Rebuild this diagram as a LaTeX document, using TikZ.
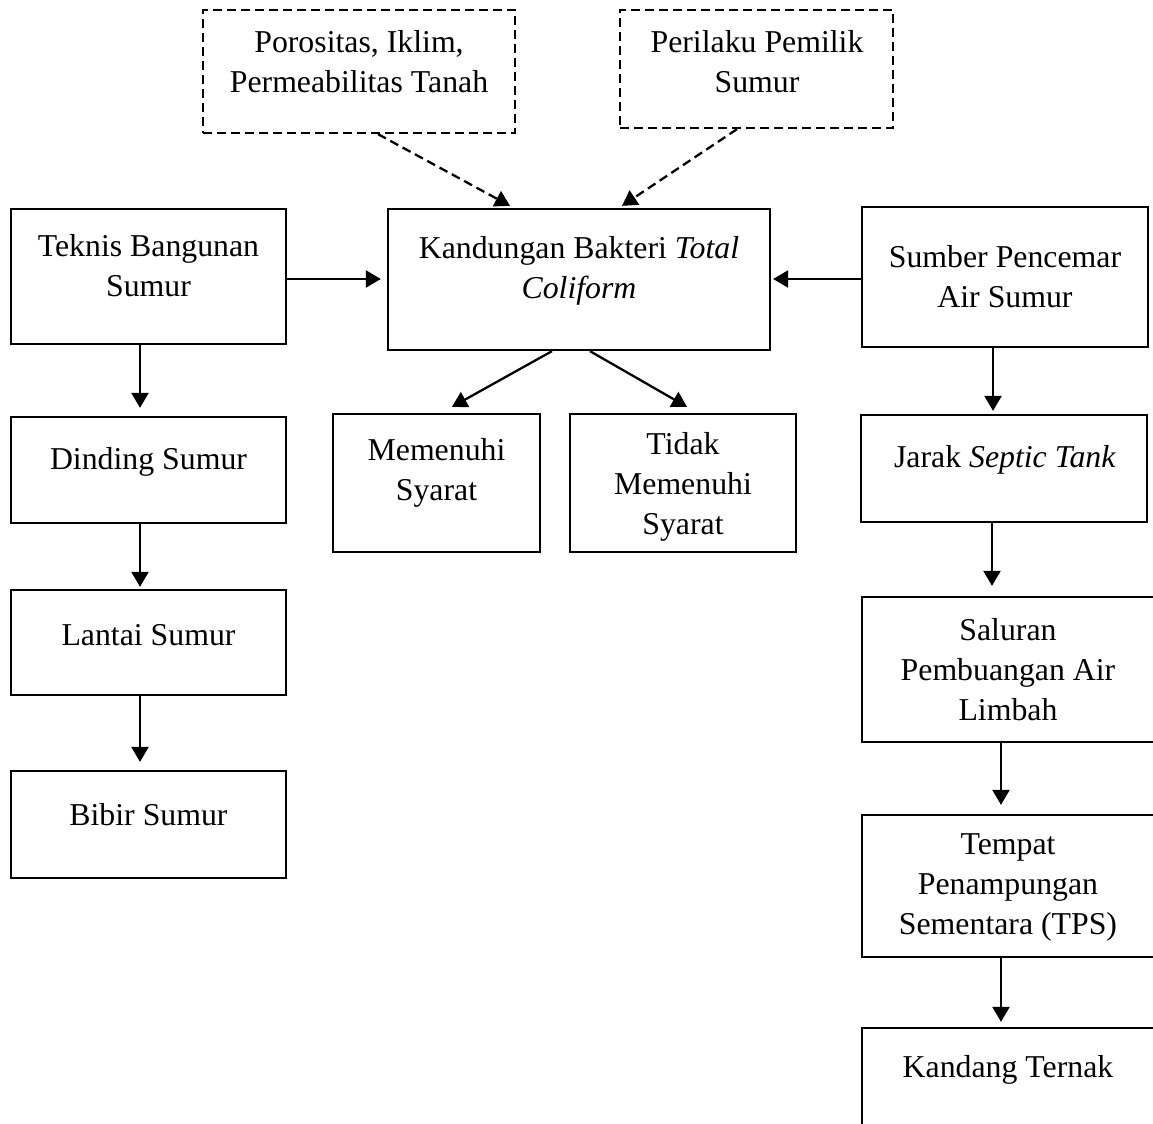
\documentclass[tikz,border=0pt]{standalone}
\usepackage{fontspec}
\setmainfont{Liberation Serif}
\usetikzlibrary{arrows.meta,fit}
\begin{document}
\begin{tikzpicture}[x=0.5pt,y=-0.5pt,
  box/.style={draw, line width=1.15pt, inner sep=0pt},
  dbox/.style={box, dash pattern=on 4.5pt off 2.5pt},
  txt/.style={align=center, inner sep=0pt, font=\fontsize{15.9pt}{20pt}\selectfont},
  arr/.style={line width=1.15pt, -{Triangle[length=7.5pt,width=8.5pt]}},
  darr/.style={arr, dash pattern=on 4.5pt off 2.5pt}]
\useasboundingbox (0,0) rectangle (1153,1124);
\clip (0,0) rectangle (1153,1124);

% boxes
\node[dbox, fit={(203,10) (515,133)}] (poro) {};
\node[dbox, fit={(620,10) (893,128)}] (peri) {};
\node[box, fit={(11,209) (286,344)}] (teknis) {};
\node[box, fit={(388,209) (770,350)}] (kand) {};
\node[box, fit={(862,207) (1148,347)}] (sumber) {};
\node[box, fit={(11,417) (286,523)}] (dinding) {};
\node[box, fit={(11,590) (286,695)}] (lantai) {};
\node[box, fit={(11,771) (286,878)}] (bibir) {};
\node[box, fit={(333,414) (540,552)}] (memenuhi) {};
\node[box, fit={(570,414) (796,552)}] (tidak) {};
\node[box, fit={(861,415) (1147,522)}] (jarak) {};
\node[box, fit={(862,597) (1156,742)}] (saluran) {};
\node[box, fit={(862,815) (1156,957)}] (tempat) {};
\node[box, fit={(862,1028) (1156,1140)}] (kandang) {};

% texts
\node[txt] (poro-t) at (359,62) {Porositas, Iklim,\\Permeabilitas Tanah};
\node[txt] (peri-t) at (757,62) {Perilaku Pemilik\\Sumur};
\node[txt] (teknis-t) at (148.5,266) {Teknis Bangunan\\Sumur};
\node[txt] (kand-t) at (579,271) {Kandungan Bakteri \textit{Total}\\\textit{Coliform}};
\node[txt] (sumber-t) at (1005,277) {Sumber Pencemar\\Air Sumur};
\node[txt] (dinding-t) at (148.5,462) {Dinding Sumur};
\node[txt] (lantai-t) at (148.5,635) {Lantai Sumur};
\node[txt] (bibir-t) at (148.5,815) {Bibir Sumur};
\node[txt] (memenuhi-t) at (436.5,473) {Memenuhi\\Syarat};
\node[txt] (tidak-t) at (683,487) {Tidak\\Memenuhi\\Syarat};
\node[txt] (jarak-t) at (1005,460) {Jarak \textit{Septic Tank}};
\node[txt] (saluran-t) at (1008,670) {Saluran\\Pembuangan Air\\Limbah};
\node[txt] (tempat-t) at (1008,887) {Tempat\\Penampungan\\Sementara (TPS)};
\node[txt] (kandang-t) at (1008,1070) {Kandang Ternak};

% dashed arrows
\draw[darr] ([xshift=9.5pt]poro.south) -- ([xshift=-34.5pt,yshift=1pt]kand.north);
\draw[darr] ([xshift=-9.75pt]peri.south) -- ([xshift=21.5pt,yshift=1pt]kand.north);

% horizontal arrows
\draw[arr] ([yshift=-1.25pt]teknis.east) -- ([xshift=-3pt,yshift=0.25pt]kand.west);
\draw[arr] ([yshift=-1pt]sumber.west) -- ([xshift=1pt,yshift=0.25pt]kand.east);

% kandungan to results
\draw[arr] ([xshift=-13.5pt]kand.south) -- ([xshift=7.75pt,yshift=3pt]memenuhi.north);
\draw[arr] ([xshift=5.5pt]kand.south) -- ([xshift=2pt,yshift=3pt]tidak.north);

% left column
\draw[arr] ([xshift=-4.25pt]teknis.south) -- ([xshift=-4.25pt,yshift=4pt]dinding.north);
\draw[arr] ([xshift=-4.25pt]dinding.south) -- ([xshift=-4.25pt,yshift=1pt]lantai.north);
\draw[arr] ([xshift=-4.25pt]lantai.south) -- ([xshift=-4.25pt,yshift=4pt]bibir.north);

% right column
\draw[arr] ([xshift=-6pt]sumber.south) -- ([xshift=-5.5pt,yshift=1.5pt]jarak.north);
\draw[arr] ([xshift=-6pt]jarak.south) -- ([xshift=-8.5pt,yshift=5pt]saluran.north);
\draw[arr] ([xshift=-4pt]saluran.south) -- ([xshift=-4pt,yshift=4.5pt]tempat.north);
\draw[arr] ([xshift=-4pt]tempat.south) -- ([xshift=-4pt,yshift=2.5pt]kandang.north);
\end{tikzpicture}
\end{document}
